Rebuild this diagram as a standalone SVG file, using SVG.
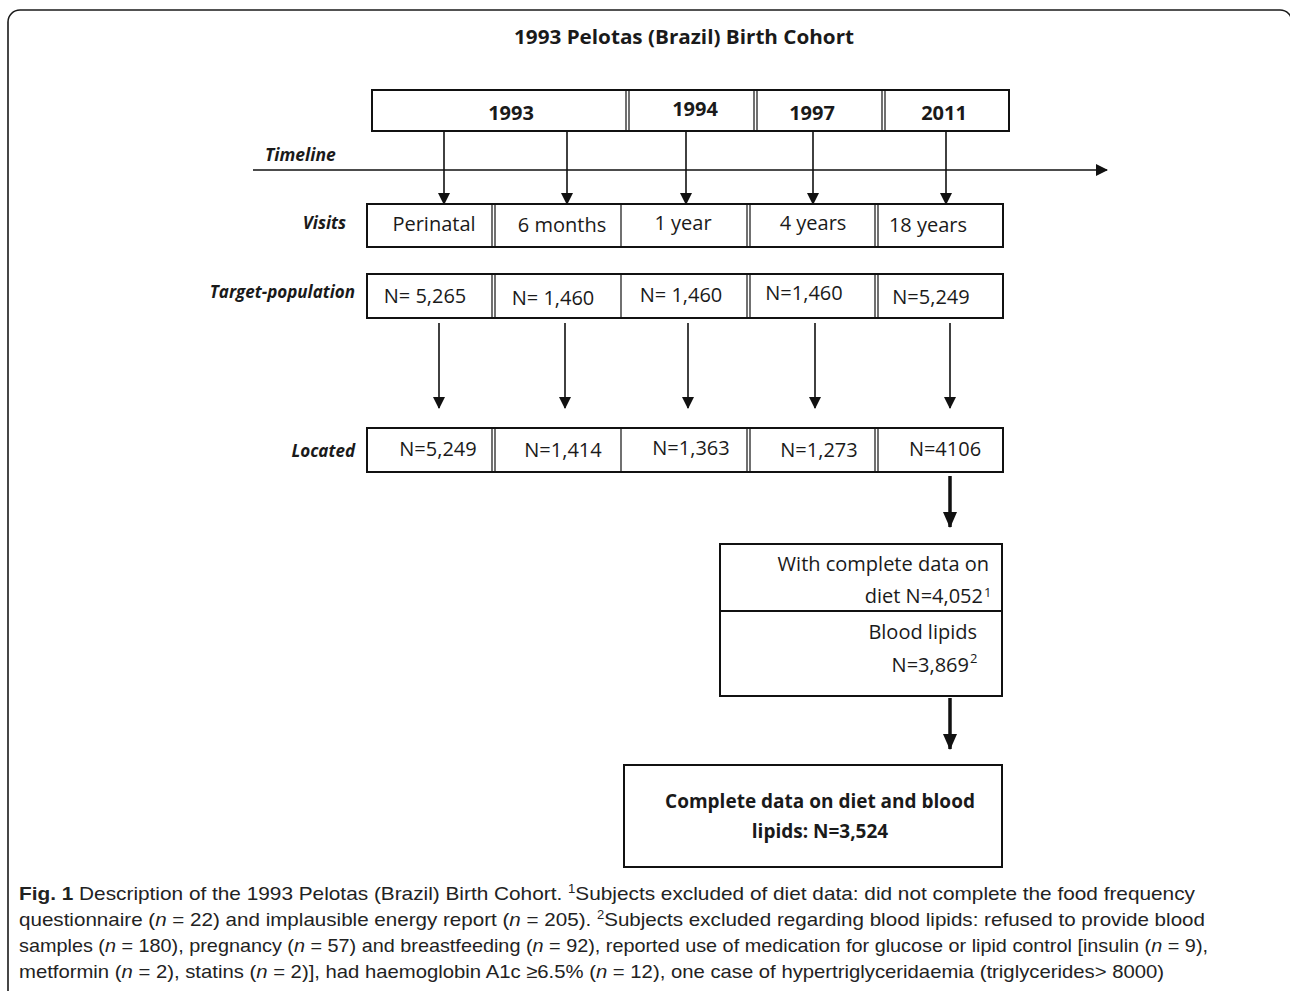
<svg xmlns="http://www.w3.org/2000/svg" width="1290" height="991" viewBox="0 0 1290 991">
<style>
.frame{fill:none;stroke:#1a1a1a;stroke-width:1.6}
.box{fill:#fff;stroke:#111;stroke-width:2}
.div{stroke:#111;stroke-width:1.2}
.t{font-family:"Open Sans","Noto Sans",sans-serif;font-size:20px;fill:#1a1a1a}
.sup{font-family:"Open Sans","Noto Sans",sans-serif;font-size:13px;fill:#1a1a1a}
.b{font-family:"Open Sans","Noto Sans",sans-serif;font-weight:bold;fill:#1a1a1a}
.lab{font-family:"Open Sans","Noto Sans",sans-serif;font-weight:bold;font-style:italic;font-size:17px;fill:#1a1a1a}
.cap{font-family:"Liberation Sans Narrow","Liberation Sans",sans-serif;font-size:19px;fill:#222}
.thin{stroke:#111;stroke-width:1.6;fill:none}
.thick{stroke:#111;stroke-width:3.5;fill:none}
</style>
<defs>
<marker id="ah" markerWidth="12" markerHeight="14" refX="11" refY="7" orient="auto" markerUnits="userSpaceOnUse">
<path d="M0,1 L12,7 L0,13 Z" fill="#111"/>
</marker>
<marker id="ahb" markerWidth="16" markerHeight="16" refX="15" refY="8" orient="auto" markerUnits="userSpaceOnUse">
<path d="M0,1 L16,8 L0,15 Z" fill="#111"/>
</marker>
</defs>
<rect width="1290" height="991" fill="#fff"/>
<rect class="frame" x="8" y="10" width="1284" height="1000" rx="12"/>
<text class="b" x="684" y="44" font-size="19" text-anchor="middle" textLength="340" lengthAdjust="spacingAndGlyphs">1993 Pelotas (Brazil) Birth Cohort</text>

<g id="years">
<rect class="box" x="372" y="90" width="637" height="41"/>
<line class="div" x1="626" y1="90" x2="626" y2="131"/><line class="div" x1="629" y1="90" x2="629" y2="131"/>
<line class="div" x1="754" y1="90" x2="754" y2="131"/><line class="div" x1="757" y1="90" x2="757" y2="131"/>
<line class="div" x1="882" y1="90" x2="882" y2="131"/><line class="div" x1="885" y1="90" x2="885" y2="131"/>
<text class="b" font-size="20" x="511" y="120" text-anchor="middle">1993</text>
<text class="b" font-size="20" x="695" y="116" text-anchor="middle">1994</text>
<text class="b" font-size="20" x="812" y="120" text-anchor="middle">1997</text>
<text class="b" font-size="20" x="944" y="120" text-anchor="middle">2011</text>
</g>

<g id="timeline">
<text class="lab" x="265" y="161" style="font-size:17.5px">Timeline</text>
</g>

<g id="visits">
<text class="lab" x="346" y="229" text-anchor="end">Visits</text>
<rect class="box" x="367" y="204" width="636" height="43"/>
<line class="div" x1="492" y1="204" x2="492" y2="247"/><line class="div" x1="495" y1="204" x2="495" y2="247"/>
<line class="div" x1="621" y1="204" x2="621" y2="247"/>
<line class="div" x1="747" y1="204" x2="747" y2="247"/><line class="div" x1="750" y1="204" x2="750" y2="247"/>
<line class="div" x1="875" y1="204" x2="875" y2="247"/><line class="div" x1="878" y1="204" x2="878" y2="247"/>
<text class="t" x="434" y="231" text-anchor="middle">Perinatal</text>
<text class="t" x="562" y="232" text-anchor="middle">6 months</text>
<text class="t" x="683" y="230" text-anchor="middle">1 year</text>
<text class="t" x="813" y="230" text-anchor="middle">4 years</text>
<text class="t" x="928" y="232" text-anchor="middle">18 years</text>
</g>

<g id="target">
<text class="lab" x="355" y="298" text-anchor="end">Target-population</text>
<rect class="box" x="367" y="274" width="636" height="44"/>
<line class="div" x1="492" y1="274" x2="492" y2="318"/><line class="div" x1="495" y1="274" x2="495" y2="318"/>
<line class="div" x1="621" y1="274" x2="621" y2="318"/>
<line class="div" x1="747" y1="274" x2="747" y2="318"/><line class="div" x1="750" y1="274" x2="750" y2="318"/>
<line class="div" x1="875" y1="274" x2="875" y2="318"/><line class="div" x1="878" y1="274" x2="878" y2="318"/>
<text class="t" x="425" y="303" text-anchor="middle">N= 5,265</text>
<text class="t" x="553" y="305" text-anchor="middle">N= 1,460</text>
<text class="t" x="681" y="302" text-anchor="middle">N= 1,460</text>
<text class="t" x="804" y="300" text-anchor="middle">N=1,460</text>
<text class="t" x="931" y="304" text-anchor="middle">N=5,249</text>
</g>

<g id="located">
<text class="lab" x="355" y="457" text-anchor="end">Located</text>
<rect class="box" x="367" y="428" width="636" height="44"/>
<line class="div" x1="492" y1="428" x2="492" y2="472"/><line class="div" x1="495" y1="428" x2="495" y2="472"/>
<line class="div" x1="621" y1="428" x2="621" y2="472"/>
<line class="div" x1="747" y1="428" x2="747" y2="472"/><line class="div" x1="750" y1="428" x2="750" y2="472"/>
<line class="div" x1="875" y1="428" x2="875" y2="472"/><line class="div" x1="878" y1="428" x2="878" y2="472"/>
<text class="t" x="438" y="456" text-anchor="middle">N=5,249</text>
<text class="t" x="563" y="457" text-anchor="middle">N=1,414</text>
<text class="t" x="691" y="455" text-anchor="middle">N=1,363</text>
<text class="t" x="819" y="457" text-anchor="middle">N=1,273</text>
<text class="t" x="945" y="456" text-anchor="middle">N=4106</text>
</g>

<g id="complete-diet">
<rect class="box" x="720" y="544" width="282" height="152"/>
<line class="box" x1="720" y1="611" x2="1002" y2="611"/>
<text class="t" x="989" y="571" text-anchor="end">With complete data on</text>
<text class="t" x="983" y="603" text-anchor="end">diet N=4,052</text>
<text class="sup" x="984" y="597">1</text>
<text class="t" x="977" y="639" text-anchor="end">Blood lipids</text>
<text class="t" x="969" y="672" text-anchor="end">N=3,869</text>
<text class="sup" x="970" y="663">2</text>
</g>

<g id="final">
<rect class="box" x="624" y="765" width="378" height="102"/>
<text class="b" font-size="19" x="820" y="808" text-anchor="middle">Complete data on diet and blood</text>
<text class="b" font-size="19" x="820" y="838" text-anchor="middle">lipids: N=3,524</text>
</g>

<g id="connectors">
<line class="thin" x1="253" y1="170" x2="1107" y2="170" marker-end="url(#ah)"/>
<line class="thin" x1="444" y1="131" x2="444" y2="204" marker-end="url(#ah)"/>
<line class="thin" x1="567" y1="131" x2="567" y2="204" marker-end="url(#ah)"/>
<line class="thin" x1="686" y1="131" x2="686" y2="204" marker-end="url(#ah)"/>
<line class="thin" x1="813" y1="131" x2="813" y2="204" marker-end="url(#ah)"/>
<line class="thin" x1="946" y1="131" x2="946" y2="204" marker-end="url(#ah)"/>
<line class="thin" x1="439" y1="323" x2="439" y2="408" marker-end="url(#ah)"/>
<line class="thin" x1="565" y1="323" x2="565" y2="408" marker-end="url(#ah)"/>
<line class="thin" x1="688" y1="323" x2="688" y2="408" marker-end="url(#ah)"/>
<line class="thin" x1="815" y1="323" x2="815" y2="408" marker-end="url(#ah)"/>
<line class="thin" x1="950" y1="323" x2="950" y2="408" marker-end="url(#ah)"/>
<line class="thick" x1="950" y1="476" x2="950" y2="527" marker-end="url(#ahb)"/>
<line class="thick" x1="950" y1="698" x2="950" y2="749" marker-end="url(#ahb)"/>
</g>

<g id="caption">
<text class="cap" x="19" y="900" textLength="1176" lengthAdjust="spacingAndGlyphs"><tspan font-weight="bold">Fig. 1</tspan> Description of the 1993 Pelotas (Brazil) Birth Cohort. <tspan style="font-size:12px" dy="-7">1</tspan><tspan dy="7">Subjects excluded of diet data: did not complete the food frequency</tspan></text>
<text class="cap" x="19" y="926" textLength="1186" lengthAdjust="spacingAndGlyphs">questionnaire (<tspan font-style="italic">n</tspan> = 22) and implausible energy report (<tspan font-style="italic">n</tspan> = 205). <tspan style="font-size:12px" dy="-7">2</tspan><tspan dy="7">Subjects excluded regarding blood lipids: refused to provide blood</tspan></text>
<text class="cap" x="19" y="952" textLength="1189" lengthAdjust="spacingAndGlyphs">samples (<tspan font-style="italic">n</tspan> = 180), pregnancy (<tspan font-style="italic">n</tspan> = 57) and breastfeeding (<tspan font-style="italic">n</tspan> = 92), reported use of medication for glucose or lipid control [insulin (<tspan font-style="italic">n</tspan> = 9),</text>
<text class="cap" x="19" y="978" textLength="1145" lengthAdjust="spacingAndGlyphs">metformin (<tspan font-style="italic">n</tspan> = 2), statins (<tspan font-style="italic">n</tspan> = 2)], had haemoglobin A1c ≥6.5% (<tspan font-style="italic">n</tspan> = 12), one case of hypertriglyceridaemia (triglycerides&gt; 8000)</text>
</g>
</svg>
